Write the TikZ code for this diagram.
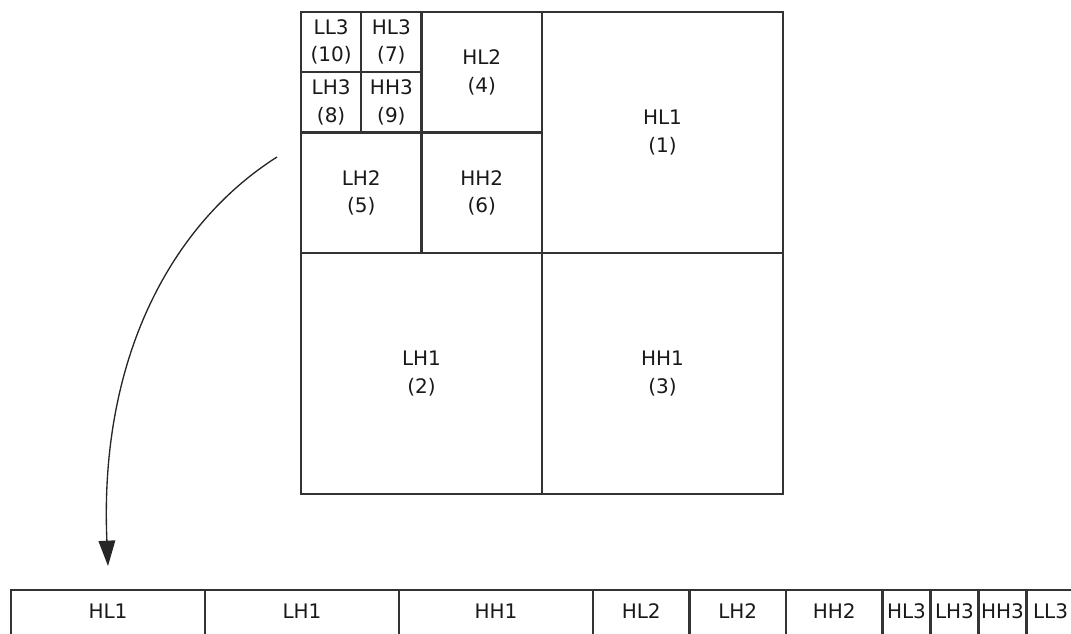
\documentclass[tikz,border=0pt]{standalone}
\usepackage{fontspec}
\setmainfont{DejaVu Sans}
\usetikzlibrary{arrows.meta,positioning}

\begin{document}
\begin{tikzpicture}[x=0.75pt, y=-0.75pt,
      band/.style={draw=black!80, line width=1.6pt, outer sep=0pt, inner sep=0pt,
        align=center, text=black!90, font=\fontsize{15}{20.5}\selectfont},
      lvlone/.style={band, minimum width=180.75pt, minimum height=180.75pt},
      lvltwo/.style={band, minimum width=90.375pt, minimum height=90.375pt},
      lvlthree/.style={band, minimum width=45.19pt, minimum height=45.19pt},
      slot/.style={band, text height=21pt, text depth=22.5pt},
      rowwide/.style={slot, minimum width=145.5pt},
      rowmid/.style={slot, minimum width=72.375pt},
      rownarrow/.style={slot, minimum width=36pt},
      flow/.style={-{Triangle[length=19pt, width=12.5pt]}, line width=1pt, black!85}
    ]
    \useasboundingbox (0,0) rectangle (1071,634);
    \clip (0,0) rectangle (1071,634);

    % Level 1
    \node[lvlone] (hl1) at (662.5,132.5) {HL1\\(1)};
    \node[lvlone] (lh1) at (421.5,373.5) {LH1\\(2)};
    \node[lvlone] (hh1) at (662.5,373.5) {HH1\\(3)};

    % Level 2
    \node[lvltwo] (hl2) at (481.75,72.25) {HL2\\(4)};
    \node[lvltwo] (lh2) at (361.25,192.75) {LH2\\(5)};
    \node[lvltwo] (hh2) at (481.75,192.75) {HH2\\(6)};

    % Level 3
    \node[lvlthree] (ll3) at (331.125,42.125) {LL3\\(10)};
    \node[lvlthree] (hl3) at (391.375,42.125) {HL3\\(7)};
    \node[lvlthree] (lh3) at (331.125,102.375) {LH3\\(8)};
    \node[lvlthree] (hh3) at (391.375,102.375) {HH3\\(9)};

    % Scan order
    \node[rowwide, anchor=north west] (bhl1) at (11,590) {HL1};
    \node[rowwide, right=0pt of bhl1] (blh1) {LH1};
    \node[rowwide, right=0pt of blh1] (bhh1) {HH1};
    \node[rowmid, right=0pt of bhh1] (bhl2) {HL2};
    \node[rowmid, right=0pt of bhl2] (blh2) {LH2};
    \node[rowmid, right=0pt of blh2] (bhh2) {HH2};
    \node[rownarrow, right=0pt of bhh2] (bhl3) {HL3};
    \node[rownarrow, right=0pt of bhl3] (blh3) {LH3};
    \node[rownarrow, right=0pt of blh3] (bhh3) {HH3};
    \node[rownarrow, right=0pt of bhh3] (bll3) {LL3};

    % Arrow
    \coordinate (start) at (277,157);
    \draw[flow] (start) .. controls (170,225) and (99,360) .. ([yshift=18pt]bhl1.north);
  \end{tikzpicture}
\end{document}
